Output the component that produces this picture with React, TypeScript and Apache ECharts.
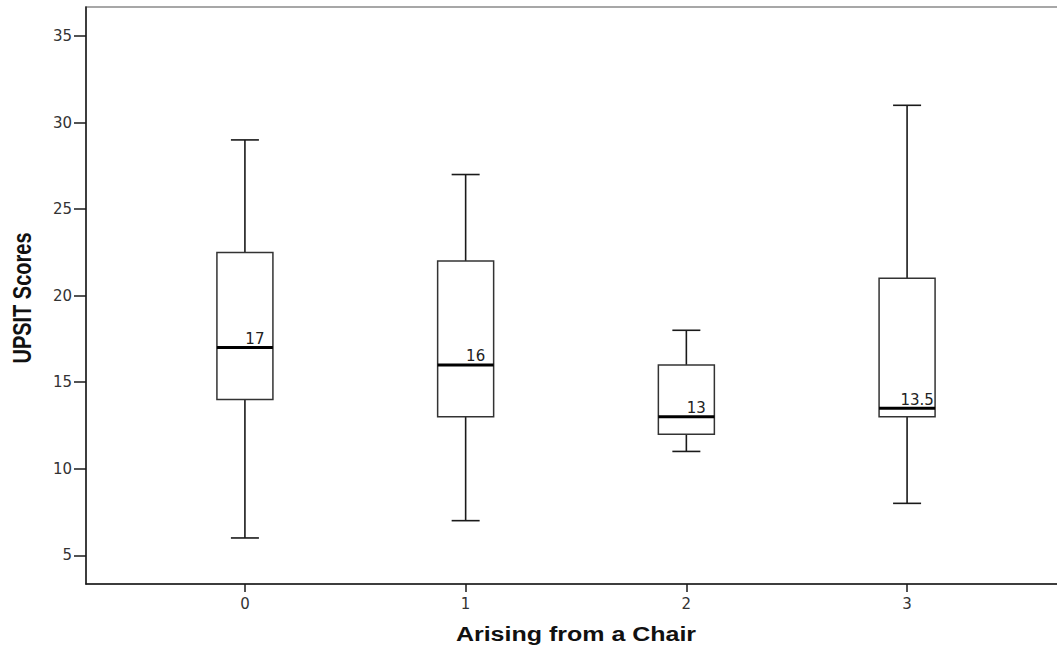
import React, { useEffect, useRef } from "react";
import * as echarts from "echarts";

const categories = [0, 1, 2, 3];
const mins = [6, 7, 11, 8];
const q1s = [14, 13, 12, 13];
const medians = [17, 16, 13, 13.5];
const q3s = [22.5, 22, 16, 21];
const maxs = [29, 27, 18, 31];
const medianLabels = ["17", "16", "13", "13.5"];
const yTicks = [5, 10, 15, 20, 25, 30, 35];
const xTicks = [0, 1, 2, 3];
const xTitle = "Arising from a Chair";
const yTitle = "UPSIT Scores";

export default function App() {
  const ref = useRef<HTMLDivElement>(null);
  useEffect(() => {
    document.body.style.margin = "0";
    const chart = echarts.init(ref.current!, null, { renderer: "svg" });
    const data = categories.map((c, i) => [c, mins[i], q1s[i], medians[i], q3s[i], maxs[i], i]);
    const boxW = 56;
    const capW = 28;
    const lineColor = "#1a1a1a";
    chart.setOption({
      animation: false,
      backgroundColor: "#ffffff",
      textStyle: { fontFamily: "DejaVu Sans" },
      grid: {
        left: 86,
        top: 7,
        right: 14,
        bottom: 64,
        show: true,
        borderColor: "#8a8a8a",
        borderWidth: 1.5,
        backgroundColor: "#ffffff",
      },
      xAxis: {
        type: "value",
        min: -0.72,
        max: 3.72,
        splitLine: { show: false },
        axisLine: { show: true, onZero: false, lineStyle: { color: "#1a1a1a", width: 1.5 } },
        axisTick: { show: true, length: 8, customValues: xTicks, lineStyle: { color: "#1a1a1a", width: 1.5 } },
        axisLabel: {
          customValues: xTicks,
          margin: 12,
          color: "#333",
          fontSize: 15,
          fontFamily: "DejaVu Sans",
        },
      },
      yAxis: {
        type: "value",
        min: 3.34,
        max: 36.68,
        splitLine: { show: false },
        axisLine: { show: true, onZero: false, lineStyle: { color: "#1a1a1a", width: 1.5 } },
        axisTick: { show: true, length: 12, customValues: yTicks, lineStyle: { color: "#1a1a1a", width: 1.5 } },
        axisLabel: {
          customValues: yTicks,
          margin: 14,
          color: "#333",
          fontSize: 15,
          fontFamily: "DejaVu Sans",
        },
      },
      graphic: [
        {
          type: "text",
          x: 576,
          y: 634,
          scaleX: 1.25,
          style: {
            text: xTitle,
            fontFamily: "Liberation Sans",
            fontWeight: "bold",
            fontSize: 20,
            fill: "#111",
            align: "center",
            verticalAlign: "middle",
          },
        },
        {
          type: "text",
          x: 22,
          y: 298,
          rotation: Math.PI / 2,
          scaleY: 1.3,
          style: {
            text: yTitle,
            fontFamily: "Liberation Sans",
            fontWeight: "bold",
            fontSize: 20,
            fill: "#111",
            align: "center",
            verticalAlign: "middle",
          },
        },
      ],
      series: [
        {
          type: "custom",
          data,
          renderItem: (params: any, api: any) => {
            const x = api.value(0);
            const pMin = api.coord([x, api.value(1)]);
            const pQ1 = api.coord([x, api.value(2)]);
            const pMed = api.coord([x, api.value(3)]);
            const pQ3 = api.coord([x, api.value(4)]);
            const pMax = api.coord([x, api.value(5)]);
            const idx = api.value(6);
            const cx = pMed[0];
            const lineStyle = { stroke: lineColor, lineWidth: 1.6 };
            return {
              type: "group",
              children: [
                { type: "line", shape: { x1: cx, y1: pMax[1], x2: cx, y2: pQ3[1] }, style: lineStyle },
                { type: "line", shape: { x1: cx, y1: pQ1[1], x2: cx, y2: pMin[1] }, style: lineStyle },
                { type: "line", shape: { x1: cx - capW / 2, y1: pMax[1], x2: cx + capW / 2, y2: pMax[1] }, style: lineStyle },
                { type: "line", shape: { x1: cx - capW / 2, y1: pMin[1], x2: cx + capW / 2, y2: pMin[1] }, style: lineStyle },
                {
                  type: "rect",
                  shape: { x: cx - boxW / 2, y: pQ3[1], width: boxW, height: pQ1[1] - pQ3[1] },
                  style: { fill: "#ffffff", stroke: "#333", lineWidth: 1.5 },
                },
                {
                  type: "line",
                  shape: { x1: cx - boxW / 2, y1: pMed[1], x2: cx + boxW / 2, y2: pMed[1] },
                  style: { stroke: "#000", lineWidth: 3 },
                },
                {
                  type: "text",
                  x: cx + 10,
                  y: pMed[1] - 1,
                  style: {
                    text: medianLabels[idx],
                    fontFamily: "DejaVu Sans",
                    fontSize: 15,
                    fill: "#222",
                    align: "center",
                    verticalAlign: "bottom",
                  },
                },
              ],
            };
          },
        },
      ],
    });
    return () => chart.dispose();
  }, []);
  return (
    <div style={{ width: 1057, height: 648, overflow: "hidden", position: "relative" }}>
      <div ref={ref} style={{ width: 1080, height: 648 }} />
    </div>
  );
}
